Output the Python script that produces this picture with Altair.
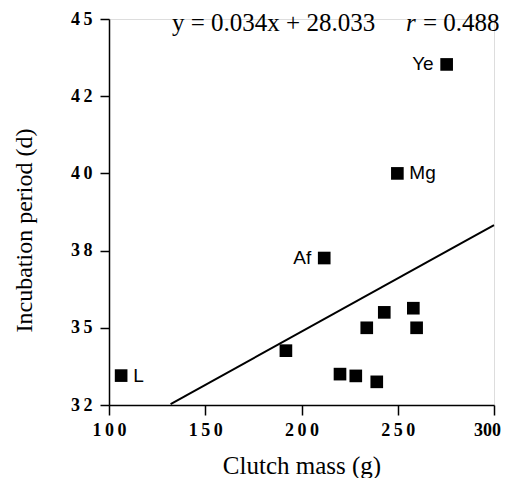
import altair as alt
import pandas as pd

# Data
clutch_mass = [106.3, 191.9, 220.0, 228.2, 239.1, 233.9, 243.0, 258.1, 259.8, 211.8, 249.8, 275.4]
incubation = [32.99, 33.83, 33.04, 32.98, 32.78, 34.60, 35.12, 35.26, 34.60, 36.95, 39.80, 43.47]
labels = ["L", "", "", "", "", "", "", "", "", "Af", "Mg", "Ye"]
label_side = ["right", "", "", "", "", "", "", "", "", "left", "right", "left"]

line_x = [132, 300]
line_y = [32.03, 38.06]

x_ticks = [100, 150, 200, 250, 300]
y_tick_values = [32, 34.6, 37.2, 39.8, 42.4, 45]
y_tick_labels = ["32", "35", "38", "40", "42", "45"]

equation_text = "y = 0.034x + 28.033"
r_text = "r"
r_value_text = "= 0.488"

pts = pd.DataFrame({"x": clutch_mass, "y": incubation, "label": labels, "side": label_side})
line_df = pd.DataFrame({"x": line_x, "y": line_y})

xscale = alt.Scale(domain=[100, 300], nice=False, zero=False)
yscale = alt.Scale(domain=[32, 45], nice=False, zero=False)

TS = "\u2009"
spaced = lambda s: TS.join(list(s))
y_label_expr = "[" + ",".join("'%s'" % spaced(s) for s in y_tick_labels) + "][round((datum.value-32)/2.6)]"
x_label_expr = ("datum.value == 300 ? datum.label : "
                "join(split(datum.label, ''), '" + TS + "')")

xaxis = alt.Axis(values=x_ticks, labelExpr=x_label_expr, title="Clutch mass (g)", grid=False,
                 labelFont="Liberation Serif", labelFontWeight="bold", labelFontSize=18,
                 labelColor="black", tickColor="black", domainColor="black", labelFlush=False,
                 labelOffset={"condition": {"test": "datum.value == 300", "value": -7}, "value": 0},
                 tickSize=10, tickWidth=1.5, domainWidth=1.5, labelPadding=6,
                 titleFont="Liberation Serif", titleFontSize=25, titleFontWeight="normal",
                 titleColor="black", titleBaseline="alphabetic", titleY=68)
yaxis = alt.Axis(values=y_tick_values, labelExpr=y_label_expr, title="Incubation period (d)",
                 grid=False, labelFont="Liberation Serif", labelFontWeight="bold", labelFontSize=18,
                 labelColor="black", tickColor="black", domainColor="black", labelFlush=False,
                 tickSize=9, tickWidth=1.5, domainWidth=1.5, labelPadding=8,
                 titleFont="Liberation Serif", titleFontSize=24, titleFontWeight="normal",
                 titleColor="black", titleX=-73, titleY=211)

points = alt.Chart(pts).mark_point(shape="square", filled=True, color="black", opacity=1, size=160).encode(
    x=alt.X("x:Q", scale=xscale, axis=xaxis),
    y=alt.Y("y:Q", scale=yscale, axis=yaxis),
)

line = alt.Chart(line_df).mark_line(color="black", strokeWidth=2).encode(
    x=alt.X("x:Q", scale=xscale),
    y=alt.Y("y:Q", scale=yscale),
)

lab_font = dict(font="Liberation Sans", fontSize=19, color="black", baseline="middle")
left_labels = alt.Chart(pts[pts.side == "left"]).mark_text(align="right", dx=-13, **lab_font).encode(
    x=alt.X("x:Q", scale=xscale), y=alt.Y("y:Q", scale=yscale), text="label:N")
right_labels = alt.Chart(pts[pts.side == "right"]).mark_text(align="left", dx=12, **lab_font).encode(
    x=alt.X("x:Q", scale=xscale), y=alt.Y("y:Q", scale=yscale), text="label:N")

ann = pd.DataFrame({"x": [132.7, 254.3, 263.1], "y": [44.61, 44.61, 44.61],
                    "t": [equation_text, r_text, r_value_text]})
txt = dict(align="left", baseline="alphabetic", font="Liberation Serif", fontSize=25, color="black")
eq = alt.Chart(ann.iloc[[0, 2]]).mark_text(**txt).encode(
    x=alt.X("x:Q", scale=xscale), y=alt.Y("y:Q", scale=yscale), text="t:N")
rt = alt.Chart(ann.iloc[[1]]).mark_text(fontStyle="italic", **txt).encode(
    x=alt.X("x:Q", scale=xscale), y=alt.Y("y:Q", scale=yscale), text="t:N")

chart = alt.layer(line, points, left_labels, right_labels, eq, rt).properties(
    width=385, height=386,
    autosize=alt.AutoSizeParams(type="none"),
    padding={"left": 101, "top": 11, "right": 10, "bottom": 73},
).configure_view(stroke=None).configure(background="white")

chart.save("out.html", embed_options={"renderer": "svg", "actions": False})
